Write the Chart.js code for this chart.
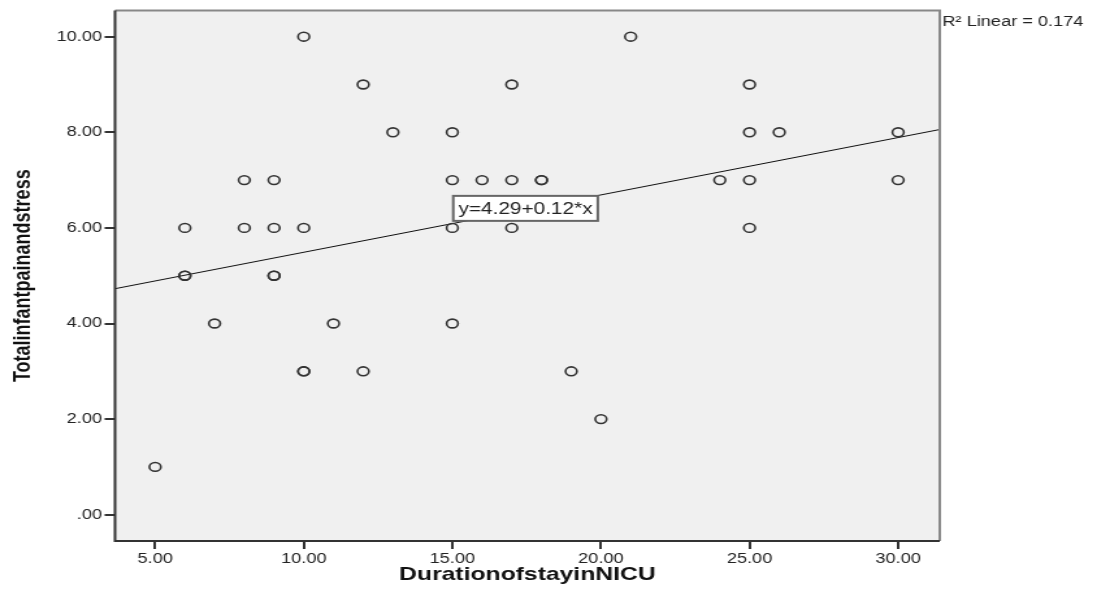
<!DOCTYPE html>
<html>
<head>
<meta charset="utf-8">
<script src="https://cdn.jsdelivr.net/npm/chart.js@4"></script>
<style>
  html, body { margin: 0; padding: 0; background: #fff; overflow: hidden; }
  /* the SPSS export is stretched sideways, so the canvas is drawn narrow and widened */
  #scatter { display: block; transform-origin: 0 0; transform: scale(1.29976, 1); }
</style>
</head>
<body>
<canvas id="scatter" width="844" height="598"></canvas>
<script>
/* DATA */

const durationDays = [5, 6, 6, 6, 7, 8, 8, 9, 9, 9, 9, 10, 10, 10, 10, 11, 12, 12, 13, 15, 15, 15, 15, 16, 17, 17, 17, 18, 18, 19, 20, 21, 24, 25, 25, 25, 25, 26, 30, 30];
const painStress   = [1, 6, 5, 5, 4, 7, 6, 7, 6, 5, 5, 10, 6, 3, 3, 4, 9, 3, 8, 8, 7, 6, 4, 7, 9, 7, 6, 7, 7, 3, 2, 10, 7, 9, 8, 7, 6, 8, 8, 7];

const xTickValues = [5, 10, 15, 20, 25, 30];
const yTickValues = [0, 2, 4, 6, 8, 10];

const fitIntercept = 4.29;
const fitSlope = 0.12;
const r2Linear = 0.174;

/* AXES */

const X_MIN = 3.65, X_MAX = 31.4;
const Y_MIN = -0.55, Y_MAX = 10.55;
const SANS = "'Liberation Sans', Arial, sans-serif";

function fmt(v) {
  const s = Number(v).toFixed(2);
  return s.startsWith("0.") ? s.slice(1) : s;
}

const points = durationDays.map((d, i) => ({ x: d, y: painStress[i] }));
const fitLine = [X_MIN, X_MAX].map(x => ({ x, y: fitIntercept + fitSlope * x }));

/* PLOT FRAME, FIT LABEL, R2 */

const spssFrame = {
  id: "spssFrame",
  beforeDraw(chart) {
    const { ctx, chartArea: a } = chart;
    ctx.save();
    ctx.fillStyle = "#f0f0f0";
    ctx.fillRect(a.left, a.top, a.right - a.left, a.bottom - a.top);
    ctx.restore();
  },
  afterDraw(chart) {
    const { ctx, chartArea: a } = chart;
    const xs = chart.scales.x, ys = chart.scales.y;

    ctx.save();
    ctx.lineWidth = 2;
    ctx.strokeStyle = "#888";
    ctx.beginPath();
    ctx.moveTo(a.left, a.top);
    ctx.lineTo(a.right, a.top);
    ctx.lineTo(a.right, a.bottom);
    ctx.stroke();
    ctx.strokeStyle = "#333";
    ctx.beginPath();
    ctx.moveTo(a.right, a.bottom);
    ctx.lineTo(a.left, a.bottom);
    ctx.lineTo(a.left, a.top);
    ctx.stroke();

    // equation box
    const text = `y=${fitIntercept.toFixed(2)}+${fitSlope.toFixed(2)}*x`;
    ctx.font = "16px " + SANS;
    const bx = xs.getPixelForValue(15.03);
    const by = ys.getPixelForValue(6.67);
    const bw = ctx.measureText(text).width + 8;
    const bh = 25;
    ctx.fillStyle = "#fff";
    ctx.fillRect(bx, by, bw, bh);
    ctx.strokeStyle = "#666";
    ctx.lineWidth = 2;
    ctx.strokeRect(bx, by, bw, bh);
    ctx.fillStyle = "#222";
    ctx.textBaseline = "middle";
    ctx.textAlign = "left";
    ctx.fillText(text, bx + 4, by + bh / 2 + 1);

    // R2 note
    ctx.font = "14px " + SANS;
    ctx.fillText(`R² Linear = ${r2Linear.toFixed(3)}`, a.right + 2, a.top + 12);
    ctx.restore();
  }
};

/* CHART */

new Chart(document.getElementById("scatter"), {
  type: "scatter",
  data: {
    datasets: [
      {
        data: points,
        pointStyle: "circle",
        pointRadius: 4.4,
        pointHoverRadius: 4.4,
        borderWidth: 1.6,
        borderColor: "#333",
        backgroundColor: "rgba(0,0,0,0)"
      },
      {
        type: "line",
        data: fitLine,
        borderColor: "#111",
        borderWidth: 1,
        pointRadius: 0,
        fill: false
      }
    ]
  },
  options: {
    responsive: false,
    devicePixelRatio: 1,
    animation: false,
    layout: { padding: { top: 9, right: 121, left: 0, bottom: 0 } },
    plugins: { legend: { display: false }, tooltip: { enabled: false } },
    scales: {
      x: {
        type: "linear",
        min: X_MIN,
        max: X_MAX,
        afterFit(s) { s.height = 57; },
        afterBuildTicks(s) { s.ticks = xTickValues.map(v => ({ value: v })); },
        grid: { drawOnChartArea: false, tickLength: 8, color: "#333", lineWidth: 2 },
        border: { display: false },
        ticks: {
          callback: fmt,
          color: "#222",
          font: { family: SANS, size: 14 },
          padding: 2,
          maxRotation: 0,
          autoSkip: false
        },
        title: {
          display: true,
          text: "DurationofstayinNICU",
          color: "#111",
          font: { family: SANS, size: 19, weight: "bold" },
          padding: { top: 0, bottom: 12 }
        }
      },
      y: {
        type: "linear",
        min: Y_MIN,
        max: Y_MAX,
        afterFit(s) { s.width = 88.5; },
        afterBuildTicks(s) { s.ticks = yTickValues.map(v => ({ value: v })); },
        grid: { drawOnChartArea: false, tickLength: 8, color: "#333", lineWidth: 2 },
        border: { display: false },
        ticks: {
          callback: fmt,
          color: "#222",
          font: { family: SANS, size: 14 },
          padding: 2,
          autoSkip: false
        },
        title: {
          display: true,
          text: "Totalinfantpainandstress",
          color: "#111",
          font: { family: SANS, size: 18, weight: "bold" },
          padding: { top: 7, bottom: 0 }
        }
      }
    }
  },
  plugins: [spssFrame]
});
</script>
</body>
</html>
